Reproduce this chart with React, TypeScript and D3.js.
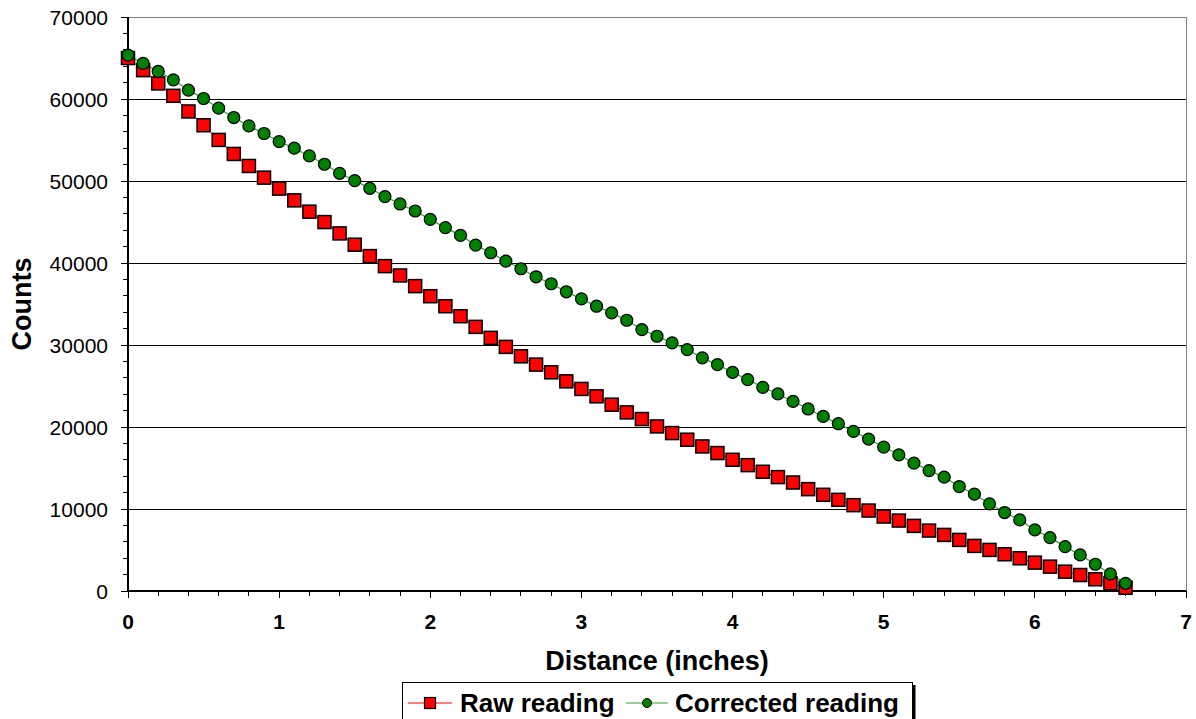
import React from "react";
import * as d3 from "d3";

const distances = [
  0, 0.1, 0.2, 0.3, 0.4, 0.5, 0.6, 0.7, 0.8, 0.9, 1.0, 1.1, 1.2, 1.3, 1.4, 1.5, 1.6, 1.7, 1.8, 1.9,
  2.0, 2.1, 2.2, 2.3, 2.4, 2.5, 2.6, 2.7, 2.8, 2.9, 3.0, 3.1, 3.2, 3.3, 3.4, 3.5, 3.6, 3.7, 3.8, 3.9,
  4.0, 4.1, 4.2, 4.3, 4.4, 4.5, 4.6, 4.7, 4.8, 4.9, 5.0, 5.1, 5.2, 5.3, 5.4, 5.5, 5.6, 5.7, 5.8, 5.9,
  6.0, 6.1, 6.2, 6.3, 6.4, 6.5, 6.6,
];

const rawReading = [
  65000, 63520, 61900, 60390, 58480, 56800, 55010, 53300, 51830, 50410,
  49070, 47640, 46260, 44990, 43610, 42230, 40840, 39620, 38480, 37180,
  35950, 34730, 33510, 32210, 30870, 29770, 28620, 27610, 26670, 25570,
  24640, 23740, 22720, 21780, 20970, 20070, 19260, 18450, 17630, 16820,
  16000, 15350, 14540, 13890, 13230, 12420, 11730, 11120, 10470, 9810,
  9080, 8590, 7940, 7370, 6840, 6230, 5500, 5010, 4480, 3990,
  3460, 2970, 2360, 1950, 1430, 940, 400,
];

const correctedReading = [
  65350, 64340, 63360, 62340, 61080, 60060, 58880, 57740, 56720, 55790,
  54810, 54000, 53060, 52040, 50940, 50050, 49110, 48100, 47200, 46340,
  45320, 44310, 43370, 42180, 41250, 40230, 39300, 38320, 37470, 36490,
  35630, 34730, 33920, 33020, 31880, 31070, 30260, 29440, 28430, 27610,
  26670, 25780, 24840, 24030, 23130, 22200, 21290, 20400, 19460, 18530,
  17550, 16610, 15600, 14680, 13890, 12740, 11810, 10630, 9570, 8670,
  7450, 6510, 5410, 4400, 3260, 2080, 940,
];

const xTicks = [0, 1, 2, 3, 4, 5, 6, 7];
const yTicks = [0, 10000, 20000, 30000, 40000, 50000, 60000, 70000];

const FONT = "Arial, 'Liberation Sans', sans-serif";

export default function App() {
  const W = 1196;
  const H = 719;
  const left = 128;
  const right = 1186;
  const top = 17;
  const bottom = 591;

  const x = d3.scaleLinear().domain([0, 7]).range([left, right]);
  const y = d3.scaleLinear().domain([0, 70000]).range([bottom, top]);

  const xMinor = d3.range(0, 7.0001, 0.2);
  const yMinor = d3.range(0, 70001, 2000);

  const rawPts = distances.map((d, i) => [d, rawReading[i]] as [number, number]);
  const corPts = distances.map((d, i) => [d, correctedReading[i]] as [number, number]);

  const line = d3
    .line<[number, number]>()
    .x((d) => x(d[0]))
    .y((d) => y(d[1]));

  const sq = 13;
  const r = 6;

  return (
    <svg
      width={W}
      height={H}
      style={{ position: "absolute", left: 0, top: 0, background: "#fff" }}
      fontFamily={FONT}
    >
      <rect x={0} y={0} width={W} height={H} fill="#fff" />
      <g shapeRendering="crispEdges">
        {/* plot border (gray) */}
        <line x1={left} x2={right} y1={y(70000)} y2={y(70000)} stroke="#808080" strokeWidth={1} />
        <line x1={right} x2={right} y1={top} y2={bottom} stroke="#808080" strokeWidth={1} />
        {/* gridlines */}
        {yTicks
          .filter((t) => t > 0 && t < 70000)
          .map((t) => (
            <line key={"g" + t} x1={left} x2={right} y1={y(t)} y2={y(t)} stroke="#000" strokeWidth={1} />
          ))}
        {/* y minor ticks */}
        {yMinor.map((t) => (
          <line
            key={"ym" + t}
            x1={left - (t % 10000 === 0 ? 7 : 5)}
            x2={left}
            y1={y(t)}
            y2={y(t)}
            stroke="#000"
            strokeWidth={1}
          />
        ))}
        {/* x minor ticks */}
        {xMinor.map((t, i) => (
          <line
            key={"xm" + i}
            x1={x(t)}
            x2={x(t)}
            y1={bottom}
            y2={bottom + (i % 5 === 0 ? 7 : 5)}
            stroke="#000"
            strokeWidth={1}
          />
        ))}
        {/* axes */}
        <line x1={left} x2={left} y1={top} y2={bottom} stroke="#000" strokeWidth={2} />
        <line x1={left} x2={right} y1={bottom} y2={bottom} stroke="#000" strokeWidth={2} />
      </g>

      {/* y tick labels */}
      {yTicks.map((t) => (
        <text key={"yl" + t} x={108} y={y(t)} dy="0.36em" textAnchor="end" fontSize={21} fill="#000">
          {t}
        </text>
      ))}
      {/* x tick labels */}
      {xTicks.map((t) => (
        <text key={"xl" + t} x={x(t)} y={629} textAnchor="middle" fontSize={21} fontWeight="bold" fill="#000">
          {t}
        </text>
      ))}

      {/* axis titles */}
      <text x={657} y={670} textAnchor="middle" fontSize={27} fontWeight="bold" fill="#000">
        Distance (inches)
      </text>
      <text
        transform={`translate(31,304) rotate(-90)`}
        textAnchor="middle"
        fontSize={27}
        fontWeight="bold"
        fill="#000"
      >
        Counts
      </text>

      {/* series lines */}
      <path d={line(rawPts) || ""} fill="none" stroke="#ff0000" strokeWidth={1} />
      <path d={line(corPts) || ""} fill="none" stroke="#33a033" strokeWidth={1.2} />

      {/* markers */}
      {rawPts.map((p, i) => (
        <rect
          key={"r" + i}
          x={x(p[0]) - sq / 2}
          y={y(p[1]) - sq / 2}
          width={sq}
          height={sq}
          fill="#ff0000"
          stroke="#000"
          strokeWidth={1.5}
        />
      ))}
      {corPts.map((p, i) => (
        <circle key={"c" + i} cx={x(p[0])} cy={y(p[1])} r={r} fill="#008000" stroke="#000" strokeWidth={1.2} />
      ))}

      {/* legend */}
      <rect x={402.5} y={682.5} width={510} height={60} fill="#fff" stroke="#000" strokeWidth={1} />
      <line x1={914} x2={914} y1={685} y2={719} stroke="#000" strokeWidth={3} />
      <line x1={408} x2={452} y1={703} y2={703} stroke="#ff0000" strokeWidth={1} />
      <rect x={430 - 5.5} y={703 - 5.5} width={11} height={11} fill="#ff0000" stroke="#000" strokeWidth={1.2} />
      <text x={460} y={712} fontSize={26} fontWeight="bold" fill="#000">
        Raw reading
      </text>
      <line x1={626} x2={668} y1={703} y2={703} stroke="#33a033" strokeWidth={1.2} />
      <circle cx={647} cy={703} r={4.5} fill="#008000" stroke="#000" strokeWidth={1} />
      <text x={675} y={712} fontSize={26} fontWeight="bold" fill="#000">
        Corrected reading
      </text>
    </svg>
  );
}
